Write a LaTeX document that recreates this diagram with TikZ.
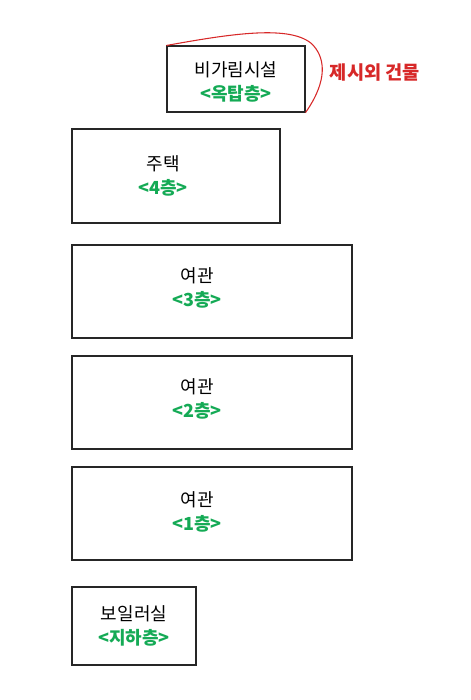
\documentclass[tikz,border=0pt]{standalone}
\usepackage{fontspec}
\setmainfont{Noto Sans CJK KR}
\usetikzlibrary{positioning}
\definecolor{floorgreen}{RGB}{20,170,85}
\definecolor{notered}{RGB}{215,40,40}

\begin{document}
\begin{tikzpicture}[
    x=0.75pt, y=-0.75pt,
    room/.style={rectangle, draw=black!85, line width=0.8pt, inner sep=0pt},
    floorlabel/.style={font=\fontsize{13.5}{18}\selectfont, align=center, inner sep=0pt},
    note/.style={font=\fontsize{14}{16}\selectfont\bfseries, text=notered, inner sep=0pt}
]
\useasboundingbox (0,0) rectangle (471,700);

% Floors
\node[room, minimum width=103.5pt, minimum height=49.5pt] (roof) at (236,79) {};
\node[room, minimum width=156pt, minimum height=70.5pt] (house) at (176,176) {};
\node[room, minimum width=210pt, minimum height=69.75pt] (inn3) at (212,291.5) {};
\node[room, minimum width=210pt, minimum height=69.75pt] (inn2) at (212,402.5) {};
\node[room, minimum width=210pt, minimum height=69.75pt] (inn1) at (212,513.5) {};
\node[room, minimum width=93pt, minimum height=58.5pt] (boiler) at (134,626) {};

% Labels
\node[floorlabel] (roofname) at (236,82) {비가림시설\\\textcolor{floorgreen}{\bfseries <옥탑층>}};
\node[floorlabel] (housename) at (163,176) {주택\\\textcolor{floorgreen}{\bfseries <4층>}};
\node[floorlabel] (inn3name) at (197,288) {여관\\\textcolor{floorgreen}{\bfseries <3층>}};
\node[floorlabel] (inn2name) at (197,399) {여관\\\textcolor{floorgreen}{\bfseries <2층>}};
\node[floorlabel] (inn1name) at (197,512) {여관\\\textcolor{floorgreen}{\bfseries <1층>}};
\node[floorlabel] (boilername) at (134,626) {보일러실\\\textcolor{floorgreen}{\bfseries <지하층>}};

% Extra building mark
\node[note] (extra) at (375,73) {제시외 건물};
\draw[notered, line width=0.8pt] (roof.north west) .. controls (230,34) and (292,24) .. (313,45)
    .. controls (332,66) and (318,95) .. (roof.south east);

\end{tikzpicture}
\end{document}
